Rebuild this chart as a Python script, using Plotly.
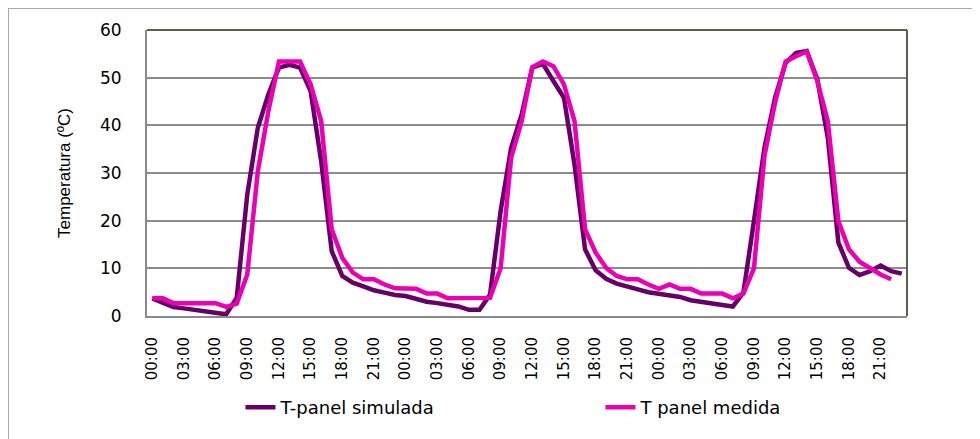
import plotly.graph_objects as go

hours = list(range(72))
tick_labels = ["00:00", "03:00", "06:00", "09:00", "12:00", "15:00", "18:00", "21:00"] * 3

t_simulada = [
    3.7, 2.8, 1.9, 1.6, 1.3, 1.0, 0.7, 0.35, 3.8, 25.5, 39.5, 46.5, 52.1, 52.7, 52.1, 47.2,
    32.5, 13.6, 8.4, 7.0, 6.2, 5.4, 4.9, 4.4,
    4.2, 3.5, 3.0, 2.7, 2.3, 2.0, 1.3, 1.3, 4.5, 22.0, 35.3, 42.3, 52.1, 52.9, 49.3, 45.8,
    31.8, 14.0, 9.6, 7.8, 6.8, 6.1, 5.6, 5.0,
    4.7, 4.4, 4.0, 3.3, 2.9, 2.7, 2.3, 2.0, 4.9, 19.9, 35.3, 45.8, 53.1, 55.2, 55.6, 49.7,
    37.4, 15.4, 10.1, 8.6, 9.4, 10.6, 9.4, 8.9,
]

t_medida = [
    3.7, 3.7, 2.7, 2.7, 2.7, 2.7, 2.7, 1.9, 2.6, 8.7, 30.4, 43.0, 53.4, 53.4, 53.4, 48.6,
    40.9, 18.2, 12.2, 9.1, 7.7, 7.7, 6.6, 5.8,
    5.7, 5.7, 4.7, 4.7, 3.7, 3.7, 3.7, 3.7, 3.8, 10.0, 33.2, 40.9, 52.2, 53.4, 52.4, 48.6,
    40.9, 18.2, 13.3, 10.1, 8.4, 7.7, 7.7, 6.6,
    5.7, 6.6, 5.7, 5.7, 4.7, 4.7, 4.7, 3.7, 4.7, 10.0, 33.6, 44.8, 53.4, 54.5, 55.5, 49.3,
    40.9, 19.9, 14.0, 11.4, 10.1, 8.7, 7.7,
]

series_names = ["T-panel simulada", "T panel medida"]
series_colors = ["#660066", "#EC00B4"]

fig = go.Figure()
fig.add_trace(go.Scatter(x=hours[:len(t_simulada)], y=t_simulada, mode="lines",
                         name=series_names[0],
                         line=dict(color=series_colors[0], width=4.5)))
fig.add_trace(go.Scatter(x=hours[:len(t_medida)], y=t_medida, mode="lines",
                         name=series_names[1],
                         line=dict(color=series_colors[1], width=4.5)))

fig.update_layout(
    width=980, height=439,
    margin=dict(l=139, r=81, t=22, b=131),
    paper_bgcolor="white", plot_bgcolor="white",
    font=dict(family="DejaVu Sans", color="black"),
    showlegend=True,
    legend=dict(orientation="h", x=0.123, y=-0.32, xanchor="left", yanchor="middle",
                font=dict(family="DejaVu Sans", size=18, color="black"),
                entrywidth=315, entrywidthmode="pixels",
                bgcolor="rgba(0,0,0,0)"),
    xaxis=dict(
        range=[-0.5, 71.5],
        tickmode="array",
        tickvals=hours[::3],
        ticktext=tick_labels,
        tickangle=-90,
        tickfont=dict(family="DejaVu Sans", size=15, color="black"),
        ticks="outside", ticklen=13, tickcolor="rgba(0,0,0,0)",
        showgrid=False, zeroline=False,
        showline=True, linecolor="#8a8a8a", linewidth=2,
    ),
    yaxis=dict(
        range=[0, 60],
        tickvals=[0, 10, 20, 30, 40, 50, 60],
        tickfont=dict(family="DejaVu Sans", size=17, color="black"),
        ticks="outside", ticklen=20, tickcolor="rgba(0,0,0,0)",
        showgrid=True, gridcolor="#8c8c8c", gridwidth=1.5,
        zeroline=False,
        showline=True, linecolor="#8a8a8a", linewidth=2,
        title=dict(text="Temperatura (ºC)", standoff=25,
                   font=dict(family="Liberation Sans", size=17, color="black")),
    ),
    shapes=[
        dict(type="line", xref="paper", yref="paper", x0=0, x1=1, y0=1, y1=1,
             line=dict(color="#5e5e48", width=2)),
        dict(type="line", xref="paper", yref="paper", x0=1, x1=1, y0=0, y1=1,
             line=dict(color="#5e5e48", width=2)),
        dict(type="rect", xref="paper", yref="paper", x0=-0.1829, x1=2, y0=-2, y1=1.0769,
             line=dict(color="#a8a8a8", width=2), layer="below"),
    ],
)

fig.write_html("out.html")
